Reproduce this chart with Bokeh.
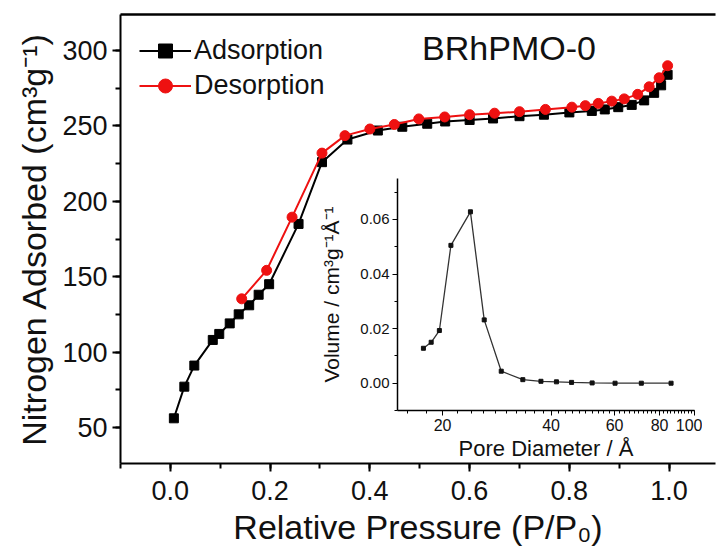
from bokeh.plotting import figure
from bokeh.models import (Range1d, SingleIntervalTicker, FixedTicker, Label, LinearAxis,
                          NumeralTickFormatter, BasicTickFormatter, Legend, LegendItem, Column)
from bokeh.embed import file_html
from bokeh.resources import INLINE

# ---- data ----
ads_p = [0.007, 0.028, 0.048, 0.085, 0.098, 0.119, 0.137, 0.158, 0.177, 0.198, 0.257, 0.304,
         0.355, 0.416, 0.465, 0.515, 0.551, 0.600, 0.647, 0.700, 0.749, 0.800, 0.845, 0.871,
         0.898, 0.925, 0.950, 0.970, 0.984, 0.997]
ads_v = [56, 77, 91, 108, 112, 119, 125, 131, 138, 145, 185, 226,
         241, 247, 249.5, 251.5, 253, 254, 255, 256.5, 257.5, 259, 260, 261,
         262.5, 264, 267, 272, 277, 284]

des_p = [0.997, 0.980, 0.960, 0.937, 0.910, 0.885, 0.858, 0.832, 0.805, 0.752, 0.700,
         0.650, 0.600, 0.550, 0.498, 0.449, 0.400, 0.350, 0.304, 0.244, 0.193, 0.143]
des_v = [290, 282, 276, 271, 268, 266.5, 265, 263.5, 262.5, 261, 259.5,
         258.5, 257.5, 256, 254.7, 251, 248, 243.6, 232, 189.5, 154.2, 135.3]

pore_d = [17.7, 18.6, 19.6, 21.1, 23.9, 26.1, 29.1, 33.4, 37.5, 41.4, 45.6, 52.0, 60.2, 71.2, 86.1]
pore_v = [0.0128, 0.0150, 0.0193, 0.0505, 0.0628, 0.0232, 0.0044, 0.0013, 0.0007, 0.0005,
          0.0003, 0.0001, 0.0, 0.0, 0.0]

inset_x_ticks = [20, 40, 60, 80, 100]
inset_x_minor = list(range(16, 101, 2))

FONT = "Liberation Sans"
RED = "#ee1111"

# ---- main figure ----
p = figure(width=723, height=549, x_range=Range1d(-0.1, 1.093), y_range=Range1d(26, 324),
           output_backend="svg", toolbar_location=None,
           min_border_left=118, min_border_top=14, min_border_right=0, min_border_bottom=86)
p.xgrid.visible = False
p.ygrid.visible = False
p.outline_line_color = None
p.background_fill_color = "white"

bx = p.below[0]
ly = p.left[0]

for ax in (bx, ly):
    ax.axis_line_width = 2
    ax.major_tick_line_width = 2
    ax.minor_tick_line_width = 2
    ax.major_tick_in = 0
    ax.major_tick_out = 8
    ax.minor_tick_in = 0
    ax.minor_tick_out = 5
    ax.major_label_text_font = FONT
    ax.major_label_text_font_size = "27px"
    ax.major_label_text_color = "#111111"
    ax.axis_label_text_font = FONT
    ax.axis_label_text_font_size = "34px"
    ax.axis_label_text_font_style = "normal"
    ax.axis_label_text_color = "#111111"

bx.ticker = SingleIntervalTicker(interval=0.2, num_minor_ticks=2)
ly.ticker = SingleIntervalTicker(interval=50, num_minor_ticks=2)
bx.formatter = NumeralTickFormatter(format="0.0")
bx.axis_label = "Relative Pressure (P/P\u2080)"
ly.axis_label = "Nitrogen Adsorbed (cm\u00b3g\u207b\u00b9)"
bx.major_label_standoff = 9
ly.major_label_standoff = 5
bx.axis_label_standoff = 5
ly.axis_label_standoff = 6

# top frame line (the right edge of the original frame is cut off)
top_axis = LinearAxis(ticker=FixedTicker(ticks=[], minor_ticks=[]), axis_line_width=2.5,
                      major_tick_in=0, major_tick_out=0, minor_tick_in=0, minor_tick_out=0,
                      major_label_standoff=0)
p.add_layout(top_axis, "above")

l1 = p.line(ads_p, ads_v, line_color="black", line_width=2)
m1 = p.scatter(ads_p, ads_v, marker="square", size=9, fill_color="black", line_color="black")
l2 = p.line(des_p, des_v, line_color=RED, line_width=2)
m2 = p.scatter(des_p, des_v, marker="circle", size=10, fill_color=RED, line_color=RED)

legend = Legend(items=[LegendItem(label="Adsorption", renderers=[l1, m1]),
                       LegendItem(label="Desorption", renderers=[l2, m2])],
                location="top_left", border_line_color=None, background_fill_alpha=0,
                label_text_font=FONT, label_text_font_size="27px", label_text_color="#111111",
                glyph_width=52, glyph_height=35, label_height=35, spacing=0,
                margin=19, padding=6, label_standoff=3)
p.add_layout(legend)

p.add_layout(Label(x=0.679, y=302, text="BRhPMO-0", text_font=FONT, text_font_size="34px",
                   text_align="center", text_baseline="middle", text_color="#111111"))

# ---- inset ----
inset = figure(frame_width=297, frame_height=232, x_axis_type="log", x_range=Range1d(15, 100),
               y_range=Range1d(-0.01, 0.075), output_backend="svg", toolbar_location=None,
               min_border_left=120, min_border_top=5, min_border_right=8, min_border_bottom=52,
               outline_line_color=None, background_fill_alpha=0, border_fill_alpha=0,
               styles={"position": "absolute", "left": "277px", "top": "173px"})
inset.xgrid.visible = False
inset.ygrid.visible = False
for ax in (inset.xaxis[0], inset.yaxis[0]):
    ax.axis_line_width = 1.5
    ax.major_tick_in = 0
    ax.major_tick_out = 5
    ax.minor_tick_in = 0
    ax.minor_tick_out = 3
    ax.major_label_text_font = FONT
    ax.axis_label_text_font = FONT
    ax.axis_label_text_font_style = "normal"
    ax.axis_label_text_color = "#111111"
    ax.major_label_text_color = "#111111"
inset.xaxis.ticker = FixedTicker(ticks=inset_x_ticks, minor_ticks=inset_x_minor)
inset.xaxis.formatter = BasicTickFormatter()
inset.yaxis.ticker = SingleIntervalTicker(interval=0.02, num_minor_ticks=2)
inset.yaxis.formatter = NumeralTickFormatter(format="0.00")
inset.xaxis.major_label_text_font_size = "16px"
inset.yaxis.major_label_text_font_size = "15px"
inset.xaxis.axis_label = "Pore Diameter / \u00c5"
inset.yaxis.axis_label = "Volume / cm\u00b3g\u207b\u00b9\u00c5\u207b\u00b9"
inset.xaxis.axis_label_text_font_size = "22px"
inset.yaxis.axis_label_text_font_size = "21px"
inset.xaxis.major_label_standoff = 3
inset.yaxis.major_label_standoff = 3
inset.xaxis.axis_label_standoff = 2
inset.yaxis.axis_label_standoff = 14

inset.line(pore_d, pore_v, line_color="#333333", line_width=1.3)
inset.scatter(pore_d, pore_v, marker="square", size=4, fill_color="#111111", line_color="#111111")

layout = Column(children=[p, inset], styles={"position": "relative"})

open("out.html", "w").write(file_html(layout, INLINE))
